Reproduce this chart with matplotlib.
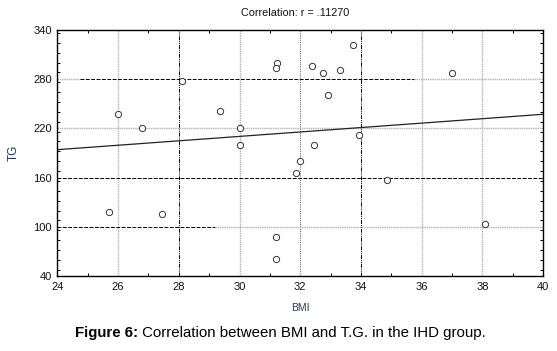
import matplotlib
matplotlib.use('Agg')
import matplotlib.pyplot as plt
from matplotlib.ticker import MultipleLocator
import numpy as np

plt.rcParams['font.family'] = ['Liberation Sans', 'DejaVu Sans']

# data
bmi = [26.0, 26.8, 28.1, 29.35, 30.0, 30.0, 31.25, 31.2, 32.4, 32.75, 33.3, 33.75,
       32.9, 33.95, 32.45, 37.0, 25.7, 27.45, 32.0, 31.85, 31.2, 31.2, 34.87, 38.1]
tg = [238, 220, 278, 241, 220, 200, 300, 294, 296, 287, 291, 321,
      261, 212, 200, 287, 118, 116, 180, 166, 88, 61, 157, 104]
fit_slope = 2.69
fit_intercept = 129.5
xticks = [24, 26, 28, 30, 32, 34, 36, 38, 40]
yticks = [40, 100, 160, 220, 280, 340]
title = 'Correlation: r = .11270'

fig = plt.figure(figsize=(5.57, 3.51), dpi=100)
ax = fig.add_axes([0.103, 0.2128, 0.872, 0.7026])

# grid, drawn like the original (mixed dark and light lines)
light = dict(color='#b4b4b4', lw=1.0, ls=(0, (1, 0.6)))
dark = dict(color='black', lw=0.7, ls=(0, (4, 1, 1, 1, 1, 1)))
darkdash = dict(color='black', lw=0.7, ls=(0, (4, 1.5)))
for xv in [26, 30, 36, 38]:
    ax.axvline(xv, **light)
ax.axvline(32, color='#707070', lw=0.8, ls=(0, (1, 1)))
for xv in [28, 34]:
    ax.axvline(xv, **dark)

ax.hlines(280, 24, 24.75, **light)
ax.hlines(280, 24.75, 35.75, **darkdash)
ax.hlines(280, 35.75, 40, **light)
ax.hlines(220, 24, 40, **light)
ax.hlines(160, 24, 40, **darkdash)
ax.hlines(100, 24, 29.2, **darkdash)
ax.hlines(100, 29.2, 40, **light)

# regression line
xl = np.array([24, 40])
ax.plot(xl, fit_intercept + fit_slope * xl, color='#222222', lw=0.9)

ax.plot(bmi, tg, 'o', mfc='white', mec='#333333', ms=4.5, mew=0.7, zorder=5)

ax.set_xlim(24, 40)
ax.set_ylim(40, 340)
ax.set_xticks(xticks)
ax.set_yticks(yticks)
ax.xaxis.set_minor_locator(MultipleLocator(1))
ax.yaxis.set_minor_locator(MultipleLocator(12))
ax.tick_params(which='both', direction='in', top=True, right=True, length=2.5,
               width=0.7, labelsize=8, labelcolor='#111111')
ax.tick_params(which='major', length=0)
ax.tick_params(axis='x', pad=4)
ax.tick_params(axis='y', pad=4)
for s in ax.spines.values():
    s.set_linewidth(1.0)

ax.set_xlabel('BMI', fontsize=7.5, color='#1f3864', labelpad=8)
ax.set_ylabel('TG', fontsize=8.5, color='#1f3864', labelpad=10)

fig.text(0.53, 0.962, title, fontsize=7.8, ha='center', va='center', color='#111111')

t1 = fig.text(75 / 557, 1 - 337 / 351, 'Figure 6:', fontsize=10.8, fontweight='bold',
              ha='left', va='baseline')
ax.annotate(' Correlation between BMI and T.G. in the IHD group.', xy=(1, 0),
            xycoords=t1, fontsize=10.8, ha='left', va='bottom', annotation_clip=False)

fig.savefig('out.png', dpi=100)
